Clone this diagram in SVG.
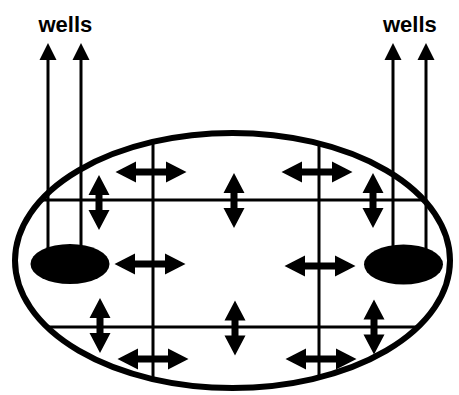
<svg xmlns="http://www.w3.org/2000/svg" width="459" height="395" viewBox="0 0 459 395">
  <style>
    .label { font-family: "Liberation Sans", Arial, sans-serif; font-weight: bold; font-size: 22px; fill: #000; }
    .grid { stroke: #000; stroke-width: 3; fill: none; }
    .pipe { stroke: #000; stroke-width: 3; fill: none; marker-end: url(#head); }
    .flow { fill: #000; }
  </style>
  <defs>
    <marker id="head" markerUnits="userSpaceOnUse" markerWidth="18" markerHeight="18" refX="0" refY="8.5" orient="auto" overflow="visible">
      <path d="M0,0 L17,8.5 L0,17 Z" fill="#000"/>
    </marker>
    <!-- two-way flow arrows, centred on the origin -->
    <path id="flowH" d="M-35.5,0 L-15,-10.5 L-15,-3.5 L15,-3.5 L15,-10.5 L35.5,0 L15,10.5 L15,3.5 L-15,3.5 L-15,10.5 Z"/>
    <path id="flowV" d="M0,-27.5 L10.5,-7.5 L3.5,-7.5 L3.5,7.5 L10.5,7.5 L0,27.5 L-10.5,7.5 L-3.5,7.5 L-3.5,-7.5 L-10.5,-7.5 Z"/>
    <clipPath id="inside">
      <ellipse cx="232.5" cy="260.5" rx="217.5" ry="127.5"/>
    </clipPath>
  </defs>

  <!-- reservoir outline -->
  <g id="reservoir">
    <ellipse cx="232.5" cy="260.5" rx="217.5" ry="127.5" fill="#fff" stroke="#000" stroke-width="6"/>
  </g>

  <!-- grid blocks inside the reservoir -->
  <g id="grid" class="grid" clip-path="url(#inside)">
    <line x1="10" y1="200" x2="455" y2="200"/>
    <line x1="10" y1="327" x2="455" y2="327"/>
    <line x1="153" y1="130" x2="153" y2="390"/>
    <line x1="319" y1="130" x2="319" y2="390"/>
  </g>

  <!-- inter-block flow -->
  <g id="flows" class="flow">
    <use href="#flowH" x="151" y="172"/>
    <use href="#flowH" x="317" y="172"/>
    <use href="#flowH" x="150" y="264"/>
    <use href="#flowH" x="320" y="266"/>
    <use href="#flowH" x="153" y="359"/>
    <use href="#flowH" x="321" y="359"/>
    <use href="#flowV" x="99" y="202.5"/>
    <use href="#flowV" x="234" y="200.5"/>
    <use href="#flowV" x="373" y="200.5"/>
    <use href="#flowV" x="100" y="325.5"/>
    <use href="#flowV" x="235" y="328"/>
    <use href="#flowV" x="374" y="327"/>
  </g>

  <!-- well pipes -->
  <g id="connectors">
    <line class="pipe" x1="48" y1="250" x2="48" y2="60"/>
    <line class="pipe" x1="81" y1="250" x2="81" y2="60"/>
    <line class="pipe" x1="393" y1="250" x2="393" y2="60"/>
    <line class="pipe" x1="426" y1="250" x2="426" y2="60"/>
  </g>

  <g id="well-left">
    <ellipse cx="70" cy="264" rx="39.5" ry="20" fill="#000"/>
    <text class="label" x="38.5" y="32">wells</text>
  </g>

  <g id="well-right">
    <ellipse cx="403.5" cy="264.5" rx="39.5" ry="20" fill="#000"/>
    <text class="label" x="383" y="32">wells</text>
  </g>
</svg>
